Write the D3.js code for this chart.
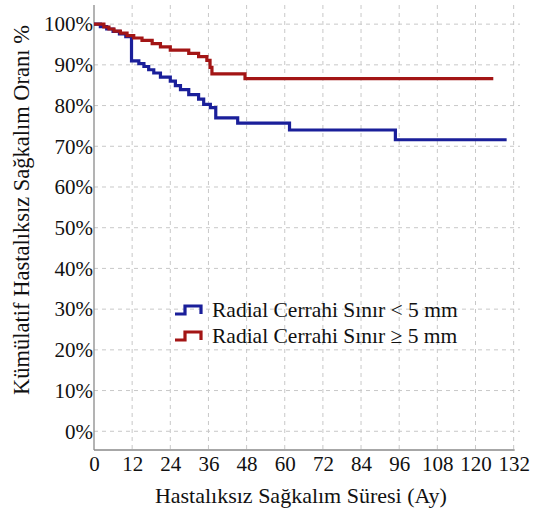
<!DOCTYPE html>
<html>
<head>
<meta charset="utf-8">
<script src="https://cdn.jsdelivr.net/npm/d3@7"></script>
<style>
  body { margin: 0; background: #fff; }
  .grid line { stroke: #c8c8c8; stroke-dasharray: 4,4; stroke-width: 1; }
</style>
</head>
<body>
<div class="canvas"></div>
<script>
// months / survival (%)
const blueTimes = [0, 2, 4, 6, 8, 10, 11.8, 14.1, 15.7, 17.2, 18.8, 20.9, 24, 25.6, 27.2, 29.8, 32.9, 34.5, 36.6, 38.3, 45.2, 61.5, 94.8, 129.8];
const blueSurv  = [100, 99.4, 98.8, 98.2, 97.6, 96.9, 91.0, 90.3, 89.6, 88.8, 88.0, 87.0, 86.0, 84.9, 83.9, 82.7, 81.6, 80.3, 79.5, 77.0, 75.7, 74.0, 71.6, 71.6];
const redTimes  = [0, 3.1, 4.7, 6.3, 8.3, 10.4, 12.5, 15.1, 18.3, 20.9, 24, 29.8, 32.9, 35.5, 36.5, 37.1, 47.5, 125.6];
const redSurv   = [100, 99.3, 98.8, 98.3, 97.8, 97.2, 96.6, 96.0, 95.2, 94.4, 93.6, 92.8, 92.0, 91.1, 89.4, 87.8, 86.6, 86.6];

const xTicks = [0, 12, 24, 36, 48, 60, 72, 84, 96, 108, 120, 132];
const yTicks = [0, 10, 20, 30, 40, 50, 60, 70, 80, 90, 100];
const seriesNames = ['Radial Cerrahi Sınır < 5 mm', 'Radial Cerrahi Sınır ≥ 5 mm'];
const seriesColors = ['#1a1f9a', '#a31515'];

const FONT = "'Liberation Serif', 'DejaVu Serif', 'Times New Roman', serif";
let width = 540, height = 518;
const svg = d3.select('.canvas')
    .append('svg')
    .attr('width', width)
    .attr('height', height)
    .attr('font-family', FONT);

const xScale = d3.scaleLinear().domain([0, 134]).range([94, 520]);
const yScale = d3.scaleLinear().domain([-4.6, 104.7]).range([450, 5]);

// grid
svg.append('g').attr('class', 'grid')
    .selectAll('line.v')
    .data(xTicks.slice(1))
    .enter()
    .append('line')
    .attr('x1', d => xScale(d)).attr('x2', d => xScale(d))
    .attr('y1', yScale.range()[1]).attr('y2', yScale.range()[0]);

svg.append('g').attr('class', 'grid')
    .selectAll('line.h')
    .data(yTicks)
    .enter()
    .append('line')
    .attr('x1', xScale.range()[0]).attr('x2', xScale.range()[1])
    .attr('y1', d => yScale(d)).attr('y2', d => yScale(d));

// axes
const xAxis = d3.axisBottom(xScale).tickValues(xTicks).tickSize(0).tickPadding(6);
const yAxis = d3.axisLeft(yScale).tickValues(yTicks).tickSize(0).tickPadding(1)
    .tickFormat(d => d + '%');

svg.append('g')
    .attr('transform', `translate(0, ${yScale.range()[0]})`)
    .call(xAxis)
    .attr('font-family', FONT)
    .call(g => g.select('.domain').remove())
    .call(g => g.selectAll('text').attr('font-size', 21).attr('fill', '#111'));

svg.append('g')
    .attr('transform', `translate(${xScale.range()[0]}, 0)`)
    .call(yAxis)
    .attr('font-family', FONT)
    .call(g => g.select('.domain').remove())
    .call(g => g.selectAll('text').attr('font-size', 21).attr('fill', '#111'));

// axis lines
svg.append('line')
    .attr('x1', xScale(0)).attr('x2', xScale(0))
    .attr('y1', yScale.range()[1]).attr('y2', yScale.range()[0])
    .attr('stroke', '#8a8a8a').attr('stroke-width', 1.3);
svg.append('line')
    .attr('x1', xScale(0)).attr('x2', xScale(132) + 1)
    .attr('y1', yScale.range()[0]).attr('y2', yScale.range()[0])
    .attr('stroke', '#8a8a8a').attr('stroke-width', 1.3);

// survival curves
const line = d3.line()
    .x(d => xScale(d[0]))
    .y(d => yScale(d[1]))
    .curve(d3.curveStepAfter);

const series = [
    d3.zip(blueTimes, blueSurv),
    d3.zip(redTimes, redSurv)
];

svg.selectAll('path.km')
    .data(series)
    .enter()
    .append('path')
    .attr('class', 'km')
    .attr('d', line)
    .attr('fill', 'none')
    .attr('stroke', (d, i) => seriesColors[i])
    .attr('stroke-width', 3.2);

// legend
const legend = svg.append('g').attr('transform', 'translate(175, 0)');
seriesNames.forEach((name, i) => {
    let y0 = 314 + i * 26;
    legend.append('path')
        .attr('d', `M0,${y0} H10 V${y0 - 8} H26 V${y0}`)
        .attr('fill', 'none')
        .attr('stroke', seriesColors[i])
        .attr('stroke-width', 3.2);
    legend.append('text')
        .attr('x', 37)
        .attr('y', y0 + 3)
        .attr('font-size', 21.5)
        .attr('fill', '#111')
        .text(name);
});

// titles
svg.append('text')
    .attr('x', xScale(66) - 3)
    .attr('y', 503)
    .attr('text-anchor', 'middle')
    .attr('font-size', 22)
    .attr('fill', '#111')
    .text('Hastalıksız Sağkalım Süresi (Ay)');

svg.append('text')
    .attr('transform', `translate(29, 210) rotate(-90)`)
    .attr('text-anchor', 'middle')
    .attr('font-size', 22.5)
    .attr('fill', '#111')
    .text('Kümülatif Hastalıksız Sağkalım Oranı %');
</script>
</body>
</html>
